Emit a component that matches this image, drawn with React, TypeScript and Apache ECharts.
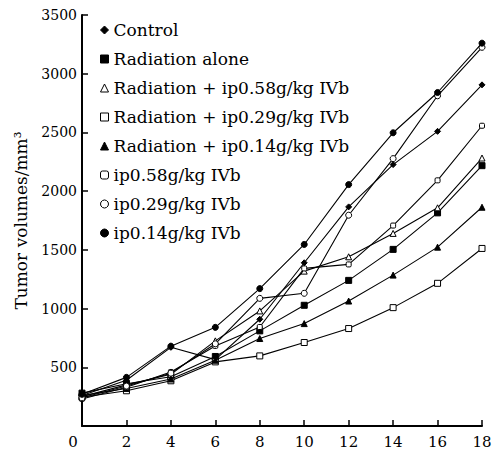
import React, { useEffect, useRef } from "react";
import * as echarts from "echarts";

const days = [0, 2, 4, 6, 8, 10, 12, 14, 16, 18];
const xTicks = ["0", "2", "4", "6", "8", "10", "12", "14", "16", "18"];
const yTicks = [500, 1000, 1500, 2000, 2500, 3000, 3500];

const seriesNames = [
  "Control",
  "Radiation alone",
  "Radiation + ip0.58g/kg IVb",
  "Radiation + ip0.29g/kg IVb",
  "Radiation + ip0.14g/kg IVb",
  "ip0.58g/kg IVb",
  "ip0.29g/kg IVb",
  "ip0.14g/kg IVb",
];

const control = [260, 390, 670, 565, 909, 1390, 1866, 2226, 2509, 2905];
const radiationAlone = [280, 360, 420, 592, 810, 1028, 1240, 1504, 1815, 2217];
const radIp058 = [250, 350, 440, 725, 980, 1319, 1441, 1640, 1858, 2282];
const radIp029 = [245, 300, 385, 546, 597, 711, 830, 1008, 1215, 1512];
const radIp014 = [260, 320, 400, 560, 745, 872, 1064, 1285, 1523, 1863];
const ip058 = [230, 330, 460, 682, 843, 1342, 1376, 1707, 2092, 2557];
const ip029 = [240, 340, 450, 700, 1087, 1130, 1795, 2277, 2812, 3225];
const ip014 = [270, 414, 680, 840, 1170, 1546, 2056, 2497, 2840, 3260];

const values = [control, radiationAlone, radIp058, radIp029, radIp014, ip058, ip029, ip014];

// marker styles: [symbol, size on lines, filled]
const markers: [string, number, boolean][] = [
  ["diamond", 6, true],
  ["rect", 6, true],
  ["triangle", 6, false],
  ["rect", 6, false],
  ["triangle", 6, true],
  ["roundRect", 5, false],
  ["circle", 6, false],
  ["circle", 6, true],
];

const FONT = "DejaVu Serif";

export default function App() {
  const ref = useRef<HTMLDivElement>(null);
  useEffect(() => {
    if (!ref.current) return;
    const chart = echarts.init(ref.current, undefined, { renderer: "svg" });
    const series = seriesNames.map((name, i) => {
      const [sym, size, filled] = markers[i];
      return {
        name,
        type: "line",
        data: days.map((d, j) => [d, values[i][j]]),
        symbol: sym,
        symbolSize: size,
        showAllSymbol: true,
        lineStyle: { color: "#000", width: 1.1 },
        itemStyle: {
          color: filled ? "#000" : "#fff",
          borderColor: "#000",
          borderWidth: 1,
        },
        z: 2 + i,
      };
    });
    chart.setOption({
      animation: false,
      backgroundColor: "#fff",
      grid: { left: 82, right: 17, top: 15, bottom: 22, containLabel: false },
      legend: {
        orient: "vertical",
        left: 100,
        top: 20,
        padding: 0,
        itemWidth: 8,
        itemHeight: 8,
        itemGap: 9,
        textStyle: { fontFamily: FONT, fontSize: 17, color: "#000", lineHeight: 20 },
        data: seriesNames.map((name, i) => ({
          name,
          icon: markers[i][0],
          itemStyle: {
            color: markers[i][2] ? "#000" : "#fff",
            borderColor: "#000",
            borderWidth: 1,
          },
        })),
      },
      xAxis: {
        type: "value",
        min: 0,
        max: 18,
        interval: 2,
        axisLine: { show: true, lineStyle: { color: "#000", width: 2 } },
        axisTick: { show: true, inside: true, length: 6, lineStyle: { color: "#000", width: 1.5 } },
        splitLine: { show: false },
        axisLabel: {
          margin: 8,
          fontFamily: FONT,
          fontSize: 15,
          color: "#000",
          formatter: (v: number) => {
            const idx = days.indexOf(v);
            const t = idx >= 0 ? xTicks[idx] : "";
            return v === 0 ? "{z|" + t + "}" : t;
          },
          rich: { z: { padding: [0, 18, 0, 0], fontFamily: FONT, fontSize: 15, color: "#000" } },
        },
      },
      yAxis: {
        type: "value",
        min: 0,
        max: 3500,
        interval: 500,
        name: "Tumor volumes/mm³",
        nameLocation: "middle",
        nameGap: 53,
        nameRotate: 90,
        nameTextStyle: { fontFamily: FONT, fontSize: 17, color: "#000" },
        axisLine: { show: true, lineStyle: { color: "#000", width: 2 } },
        axisTick: { show: true, inside: true, length: 6, lineStyle: { color: "#000", width: 1.5 } },
        splitLine: { show: false },
        axisLabel: {
          margin: 5,
          fontFamily: FONT,
          fontSize: 14,
          color: "#000",
          formatter: (v: number) => (yTicks.indexOf(v) >= 0 ? String(v) : ""),
        },
      },
      series,
    });
    return () => chart.dispose();
  }, []);
  return (
    <div
      ref={ref}
      style={{ position: "fixed", left: 0, top: 0, width: 499, height: 449 }}
    />
  );
}
